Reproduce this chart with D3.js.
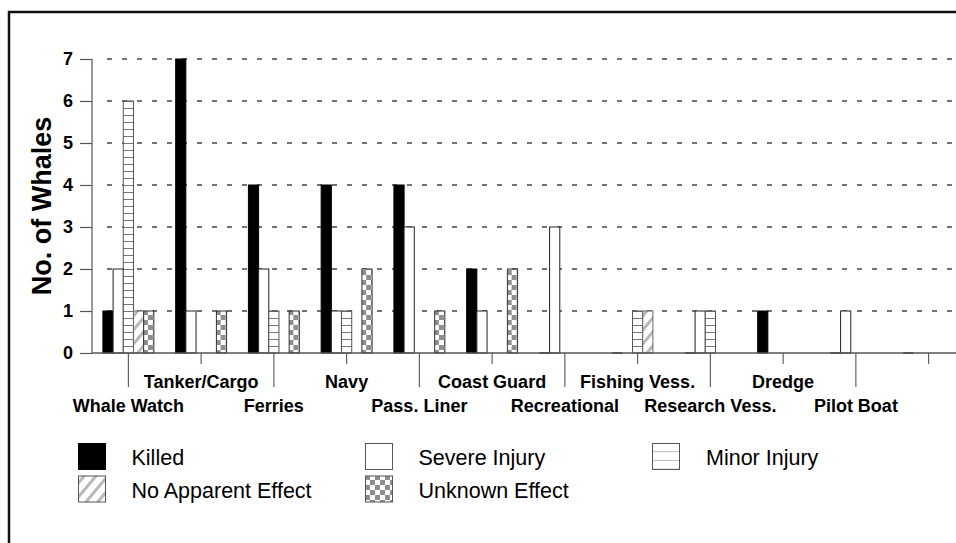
<!DOCTYPE html>
<html>
<head>
<meta charset="utf-8">
<script src="https://cdn.jsdelivr.net/npm/d3@7"></script>
<style>
  html, body { margin: 0; padding: 0; background: #fff; }
  svg { display: block; }
  text { font-family: "Liberation Sans", Arial, Helvetica, sans-serif; }
</style>
</head>
<body>
<svg id="chart" width="956" height="543"></svg>
<script>
// ---- Data ----
const categories = ["Whale Watch", "Tanker/Cargo", "Ferries", "Navy", "Pass. Liner", "Coast Guard",
  "Recreational", "Fishing Vess.", "Research Vess.", "Dredge", "Pilot Boat", ""];
const seriesNames = ["Killed", "Severe Injury", "Minor Injury", "No Apparent Effect", "Unknown Effect"];
const killed   = [1, 7, 4, 4, 4, 2, 0, 0, 0, 1, 0, 0];
const severe   = [2, 1, 2, 1, 3, 1, 3, 0, 1, 0, 1, 0];
const minor    = [6, 0, 1, 1, 0, 0, 0, 1, 1, 0, 0, 0];
const noEffect = [1, 0, 0, 0, 0, 0, 0, 1, 0, 0, 0, 0];
const unknown  = [1, 1, 1, 2, 1, 2, 0, 0, 0, 0, 0, 0];
const yTicks = [0, 1, 2, 3, 4, 5, 6, 7];

const seriesValues = [killed, severe, minor, noEffect, unknown];

const svg = d3.select("#chart");
const W = 956, H = 543;

// ---- Patterns ----
const defs = svg.append("defs");
const pMinor = defs.append("pattern").attr("id", "p-minor")
  .attr("patternUnits", "userSpaceOnUse").attr("width", 12).attr("height", 7);
pMinor.append("rect").attr("width", 12).attr("height", 7).attr("fill", "#fff");
pMinor.append("line").attr("x1", 0).attr("x2", 12).attr("y1", 3.5).attr("y2", 3.5)
  .attr("stroke", "#777").attr("stroke-width", 1);

const pNo = defs.append("pattern").attr("id", "p-no")
  .attr("patternUnits", "userSpaceOnUse").attr("width", 9).attr("height", 9)
  .attr("patternTransform", "rotate(40)");
pNo.append("rect").attr("width", 9).attr("height", 9).attr("fill", "#fff");
pNo.append("rect").attr("x", 0).attr("width", 3).attr("height", 9).attr("fill", "#b8b8b8");

const pUnk = defs.append("pattern").attr("id", "p-unk")
  .attr("patternUnits", "userSpaceOnUse").attr("width", 10).attr("height", 10);
pUnk.append("rect").attr("width", 10).attr("height", 10).attr("fill", "#fff");
pUnk.append("rect").attr("x", 0).attr("y", 0).attr("width", 5).attr("height", 5).attr("fill", "#8e8e8e");
pUnk.append("rect").attr("x", 5).attr("y", 5).attr("width", 5).attr("height", 5).attr("fill", "#8e8e8e");

const pMinorLg = defs.append("pattern").attr("id", "p-minor-lg")
  .attr("patternUnits", "userSpaceOnUse").attr("width", 12).attr("height", 8.7)
  .attr("y", 443.5);
pMinorLg.append("rect").attr("width", 12).attr("height", 8.7).attr("fill", "#fff");
pMinorLg.append("line").attr("x1", 0).attr("x2", 12).attr("y1", 8.7).attr("y2", 8.7)
  .attr("stroke", "#777").attr("stroke-width", 1);

const fills = ["#000", "#fff", "url(#p-minor)", "url(#p-no)", "url(#p-unk)"];
const strokes = ["#000", "#222", "#555", "#666", "#333"];

// ---- Scales ----
const step = 72.75;
const x0 = d3.scaleBand().domain(categories)
  .range([92, 92 + categories.length * step])
  .paddingInner(0.3).paddingOuter(0.15);
const x1 = d3.scaleBand().domain(seriesNames).range([0, x0.bandwidth()]);
const y = d3.scaleLinear().domain([0, 7]).range([353, 59]);

// ---- Frame ----
svg.append("path").attr("d", `M9,${H} L9,12 L${W},12`)
  .attr("fill", "none").attr("stroke", "#111").attr("stroke-width", 2.5);

// ---- Gridlines ----
svg.append("g").selectAll("line").data(yTicks.filter(d => d > 0)).join("line")
  .attr("x1", 107).attr("x2", W)
  .attr("y1", d => y(d)).attr("y2", d => y(d))
  .attr("stroke", "#444").attr("stroke-width", 1.6)
  .attr("stroke-dasharray", "5,10");

// ---- Y axis ----
const yAxis = svg.append("g").attr("transform", "translate(92,0)")
  .call(d3.axisLeft(y).tickValues(yTicks).tickSize(12).tickPadding(7).tickFormat(d3.format("d")));
yAxis.select(".domain").attr("stroke", "#555").attr("stroke-width", 1.2).attr("d", `M0,${y(7)}V${y(0)}`);
yAxis.selectAll(".tick line").attr("stroke", "#555").attr("stroke-width", 1.2);
yAxis.selectAll(".tick text").attr("font-size", 18).attr("font-weight", "bold")
  .attr("fill", "#000").style("font-family", '"Liberation Sans", Arial, sans-serif');

svg.append("text")
  .attr("transform", `translate(51,${(y(0) + y(7)) / 2}) rotate(-90)`)
  .attr("text-anchor", "middle")
  .attr("font-size", 27).attr("font-weight", "bold").attr("fill", "#000")
  .text("No. of Whales");

// ---- Bars ----
const groups = svg.append("g").selectAll("g").data(categories).join("g")
  .attr("transform", d => `translate(${x0(d)},0)`);

groups.each(function (cat, ci) {
  const g = d3.select(this);
  seriesNames.forEach((s, si) => {
    const v = seriesValues[si][ci];
    if (v > 0) {
      g.append("rect")
        .attr("x", x1(s)).attr("width", x1.bandwidth())
        .attr("y", y(v)).attr("height", y(0) - y(v))
        .attr("fill", fills[si]).attr("stroke", strokes[si]).attr("stroke-width", 1);
    } else if (si === 0) {
      g.append("line")
        .attr("x1", x1(s)).attr("x2", x1(s) + x1.bandwidth())
        .attr("y1", y(0)).attr("y2", y(0))
        .attr("stroke", "#222").attr("stroke-width", 1.5);
    }
  });
});

// ---- X axis baseline ----
svg.append("line").attr("x1", 92).attr("x2", W).attr("y1", y(0)).attr("y2", y(0))
  .attr("stroke", "#555").attr("stroke-width", 1.3);

// ---- Category ticks & labels (staggered) ----
const xl = svg.append("g");
categories.forEach((c, i) => {
  const cx = x0(c) + x0.bandwidth() / 2;
  const long = i % 2 === 0;
  xl.append("line").attr("x1", cx).attr("x2", cx)
    .attr("y1", y(0)).attr("y2", long ? 387 : 364)
    .attr("stroke", "#555").attr("stroke-width", 1.1);
  xl.append("text").attr("x", cx).attr("y", long ? 411.5 : 388)
    .attr("text-anchor", "middle").attr("font-size", 18).attr("font-weight", "bold")
    .attr("fill", "#000").text(c);
});

// ---- Legend ----
const legendItems = [
  { name: "Killed", si: 0, sx: 78.5, sy: 443.5, tx: 131.5 },
  { name: "Severe Injury", si: 1, sx: 365.5, sy: 443.5, tx: 418.5 },
  { name: "Minor Injury", si: 2, sx: 652.5, sy: 443.5, tx: 706 },
  { name: "No Apparent Effect", si: 3, sx: 78.5, sy: 476, tx: 131.5 },
  { name: "Unknown Effect", si: 4, sx: 365.5, sy: 476, tx: 418.5 }
];
const lg = svg.append("g");
legendItems.forEach(d => {
  lg.append("rect").attr("x", d.sx).attr("y", d.sy).attr("width", 27).attr("height", 26)
    .attr("fill", d.si === 2 ? "url(#p-minor-lg)" : fills[d.si])
    .attr("stroke", d.si === 0 ? "#000" : "#555").attr("stroke-width", 1);
  lg.append("text").attr("x", d.tx).attr("y", d.sy + 21.5)
    .attr("font-size", 21.5).attr("fill", "#000").text(d.name);
});
</script>
</body>
</html>
